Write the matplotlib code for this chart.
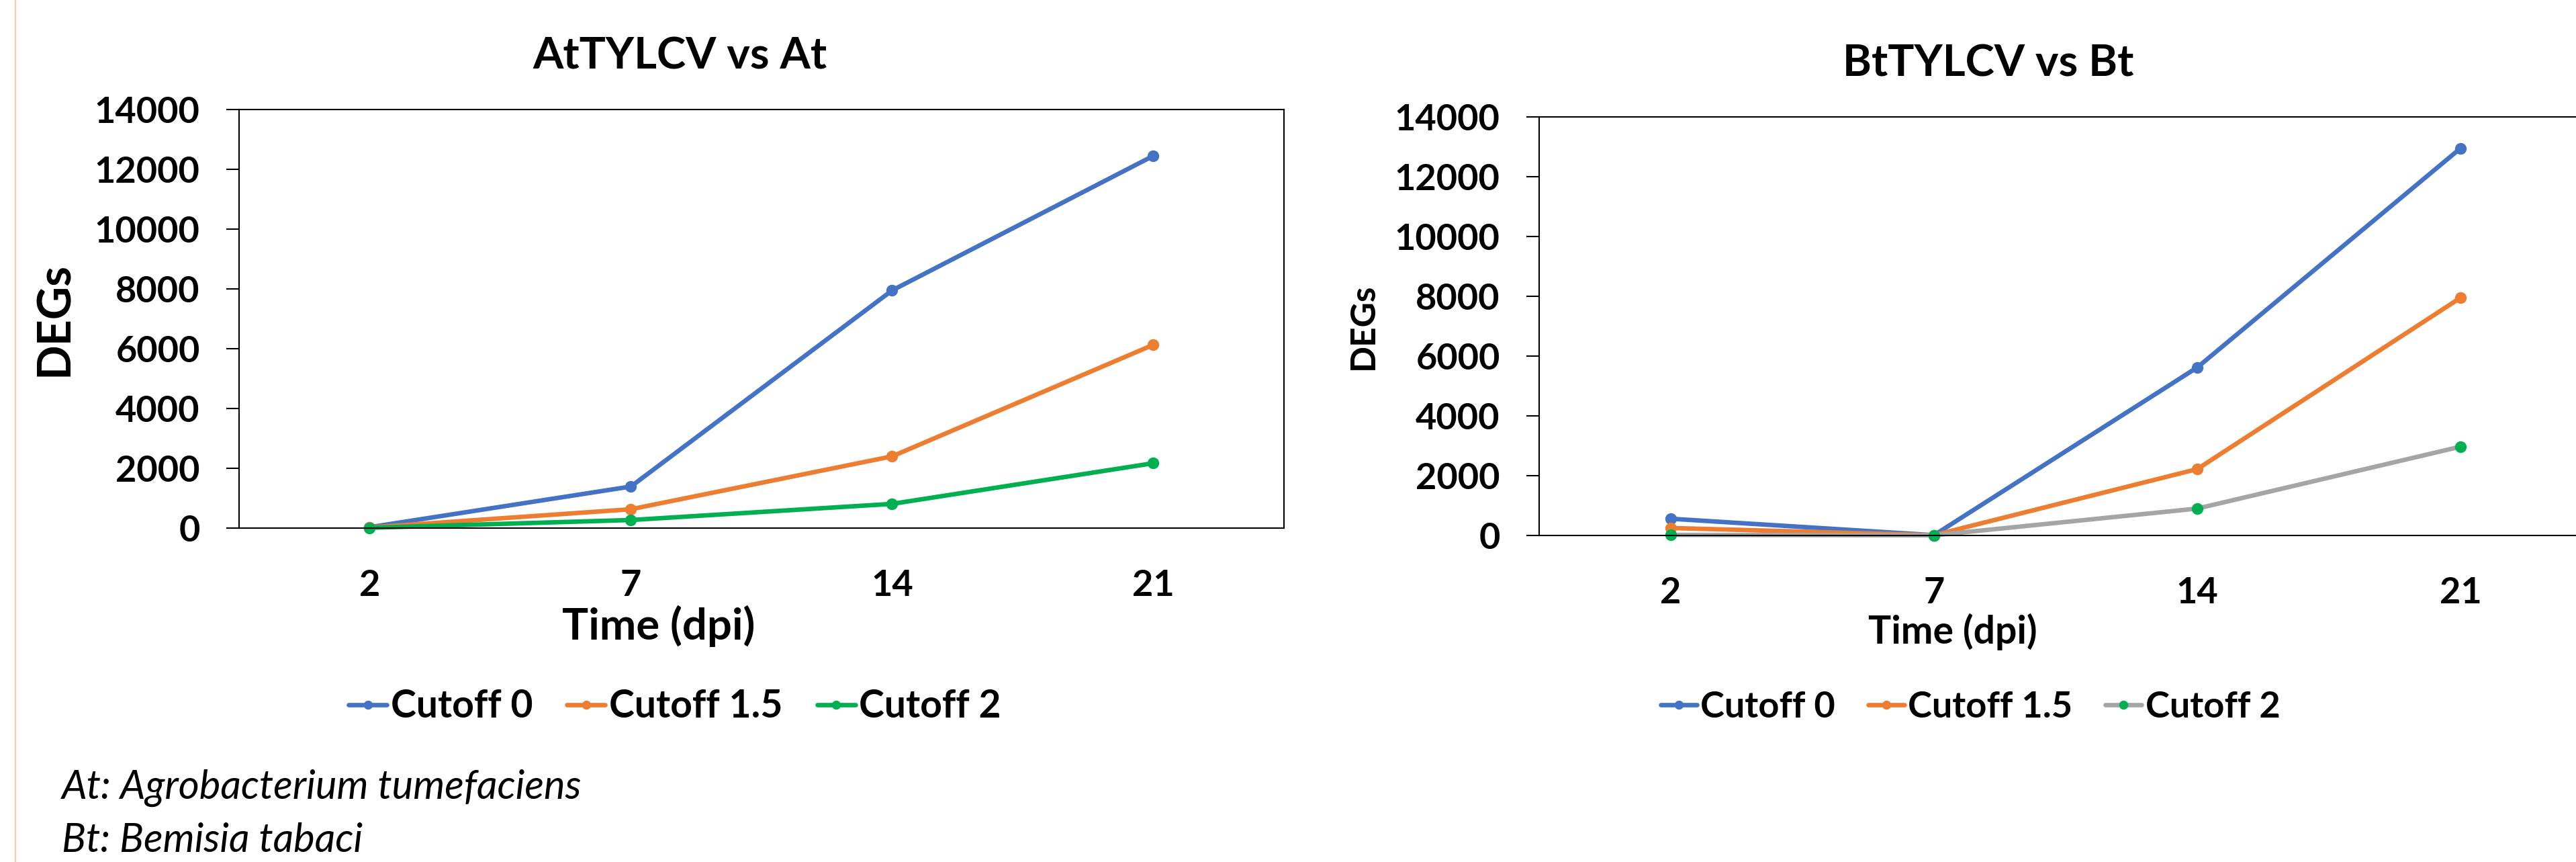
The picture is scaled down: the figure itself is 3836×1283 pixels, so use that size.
import matplotlib
matplotlib.use("Agg")
import matplotlib.pyplot as plt
from matplotlib.lines import Line2D

# data
days = ["2", "7", "14", "21"]
series_names = ["Cutoff 0", "Cutoff 1.5", "Cutoff 2"]
at_cut0 = [30, 1390, 7950, 12450]
at_cut15 = [20, 630, 2400, 6130]
at_cut2 = [10, 270, 810, 2170]
bt_cut0 = [560, 10, 5620, 12950]
bt_cut15 = [250, 10, 2220, 7950]
bt_cut2 = [20, 5, 900, 2970]
yticks = [0, 2000, 4000, 6000, 8000, 10000, 12000, 14000]

blue = "#4472C4"
orange = "#ED7D31"
green = "#00B050"
gray = "#A5A5A5"

plt.rcParams['font.family'] = ['Lato', 'DejaVu Sans']
plt.rcParams['font.weight'] = 'bold'

W, H = 3837, 1283
fig = plt.figure(figsize=(W / 100, H / 100), dpi=100)
fig.patch.set_facecolor("white")

# thin peach line on the far left
fig.add_artist(Line2D([23 / W, 23 / W], [0, 1], color="#F8CBAD", lw=1.6,
                      transform=fig.transFigure))


def make_panel(rect, vals, line_cols, mark_cols):
    ax = fig.add_axes(rect)
    xs = range(len(days))
    for v, lc, mc, name in zip(vals, line_cols, mark_cols, series_names):
        ax.plot(xs, v, color=lc, lw=4.8, marker="o", ms=11.5,
                markerfacecolor=mc, markeredgecolor=mc, label=name,
                solid_capstyle="round", clip_on=False)
    ax.set_xlim(-0.5, 3.5)
    ax.set_ylim(0, 14000)
    ax.set_yticks(yticks)
    ax.set_yticklabels([str(t) for t in yticks], fontsize=39, fontweight="bold")
    ax.set_xticks(list(xs))
    ax.set_xticklabels(days, fontsize=39, fontweight="bold")
    ax.tick_params(axis="y", direction="out", length=14, width=1.5, pad=28)
    ax.tick_params(axis="x", length=0, pad=44)
    for s in ax.spines.values():
        s.set_linewidth(1.5)
        s.set_color("black")
    return ax


ax1 = make_panel([356 / W, 1 - 786 / H, 1556 / W, 623 / H],
                 [at_cut0, at_cut15, at_cut2],
                 [blue, orange, green], [blue, orange, green])
ax2 = make_panel([2292 / W, 1 - 797 / H, 1568 / W, 623 / H],
                 [bt_cut0, bt_cut15, bt_cut2],
                 [blue, orange, gray], [blue, orange, green])

# titles and axis labels
fig.text(1012 / W, 1 - 84 / H, "AtTYLCV vs At", ha="center", va="center",
         fontsize=47, fontweight="bold")
fig.text(2961 / W, 1 - 95 / H, "BtTYLCV vs Bt", ha="center", va="center",
         fontsize=47, fontweight="bold")
fig.text(82 / W, 1 - 475 / H, "DEGs", rotation=90, ha="center", va="center",
         fontsize=49, fontweight="bold")
fig.text(2030 / W, 1 - 486 / H, "DEGs", rotation=90, ha="center", va="center",
         fontsize=37, fontweight="bold")
fig.text(981 / W, 1 - 932 / H, "Time (dpi)", ha="center", va="center",
         fontsize=47, fontweight="bold")
fig.text(2908 / W, 1 - 940 / H, "Time (dpi)", ha="center", va="center",
         fontsize=41, fontweight="bold")

# legends
for ax, cx, fs in [(ax1, 1005, 41), (ax2, 2934, 39)]:
    ax.legend(loc="center", bbox_to_anchor=(cx / W, 1 - 1052 / H),
              bbox_transform=fig.transFigure, ncol=3, frameon=False,
              prop={"size": fs, "weight": "bold"}, handlelength=1.0,
              handletextpad=0.1, columnspacing=0.9, markerscale=0.75)

# footnote
fig.text(92 / W, 1 - 1173 / H, "At: Agrobacterium tumefaciens", ha="left",
         va="center", fontsize=43, fontweight="normal", style="italic")
fig.text(92 / W, 1 - 1251 / H, "Bt: Bemisia tabaci", ha="left",
         va="center", fontsize=43, fontweight="normal", style="italic")

fig.savefig("out.png", dpi=100, facecolor="white")
